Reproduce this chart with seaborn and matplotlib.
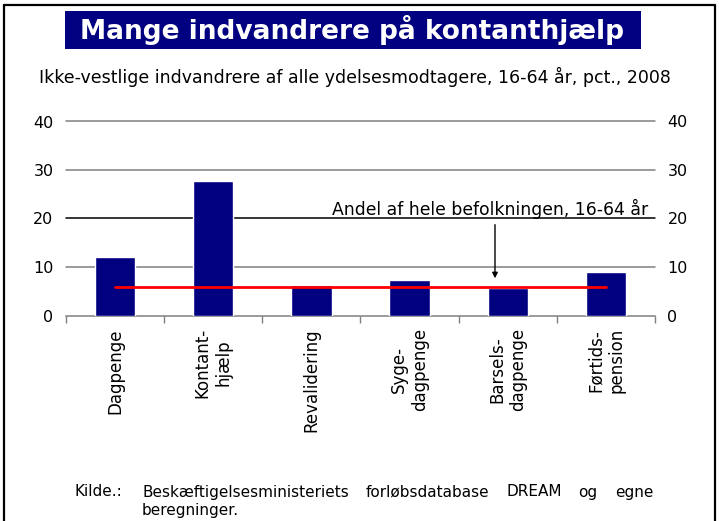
import matplotlib
matplotlib.use("Agg")
import matplotlib.pyplot as plt
from matplotlib.patches import Rectangle
from matplotlib.lines import Line2D
import seaborn as sns
import pandas as pd

# ---- data ----
categories = ["Dagpenge", "Kontant-\nhjælp", "Revalidering", "Syge-\ndagpenge",
              "Barsels-\ndagpenge", "Førtids-\npension"]
values = [12.0, 27.7, 6.2, 7.4, 5.6, 8.9]
befolkning_andel = [5.9, 5.9, 5.9, 5.9, 5.9, 5.9]
yticks = [0, 10, 20, 30, 40]

title = "Mange indvandrere på kontanthjælp"
subtitle = "Ikke-vestlige indvandrere af alle ydelsesmodtagere, 16-64 år, pct., 2008"
annot = "Andel af hele befolkningen, 16-64 år"
source_label = "Kilde.:"
source_line1 = "Beskæftigelsesministeriets forløbsdatabase DREAM og egne"
source_line2 = "beregninger."

sns.set_theme(style="white")
plt.rcParams["font.family"] = ["DejaVu Sans"]
plt.rcParams["text.color"] = "black"
plt.rcParams["xtick.color"] = "black"
plt.rcParams["ytick.color"] = "black"
plt.rcParams["axes.labelcolor"] = "black"

W, H = 719, 521
fig = plt.figure(figsize=(W / 100, H / 100), dpi=100)

def fx(px):
    return px / W

def fy(py):
    return 1 - py / H

ax = fig.add_axes([fx(66), fy(315.5), fx(655) - fx(66), fy(121.5) - fy(315.5)])

df = pd.DataFrame({"cat": categories, "val": values})
sns.barplot(data=df, x="cat", y="val", color="#000080", width=0.41,
            saturation=1, ax=ax, zorder=3)
pos = list(range(len(categories)))
sns.lineplot(x=pos, y=befolkning_andel, color="#ff0000", linewidth=2,
             ax=ax, zorder=4)

ax.set_xlim(-0.5, len(categories) - 0.5)
ax.set_ylim(0, 40)
ax.set_xlabel("")
ax.set_ylabel("")

# gridlines
for t in yticks[1:]:
    ax.axhline(t, color="black" if t == 20 else "#808080", linewidth=1.1,
               zorder=1, clip_on=False)

for s in ["left", "right", "top"]:
    ax.spines[s].set_visible(False)
ax.spines["bottom"].set_color("#808080")
ax.spines["bottom"].set_linewidth(1.1)

ax.set_yticks(yticks)
ax.tick_params(axis="y", length=0, pad=9, labelsize=11.5, colors="black")
ax.set_xticks(pos)
ax.set_xticklabels(categories, rotation=90, ha="center", va="top",
                   multialignment="center", fontsize=12)
ax.tick_params(axis="x", which="major", length=0, pad=9, colors="black")
ax.set_xticks([p - 0.5 for p in pos] + [len(pos) - 0.5], minor=True)
ax.tick_params(axis="x", which="minor", length=5, width=1, color="#808080",
               direction="out", bottom=True)

ax2 = ax.twinx()
ax2.set_ylim(0, 40)
ax2.set_yticks(yticks)
ax2.tick_params(axis="y", length=0, pad=9, labelsize=11.5, colors="black")
for s in ax2.spines.values():
    s.set_visible(False)
ax2.grid(False)

# annotation
ax.annotate("", xy=(3.87, 7.1), xytext=(3.87, 19.3),
            arrowprops=dict(arrowstyle="-|>", color="black", lw=1,
                            mutation_scale=8), zorder=5)
ax.text(5.43, 20.7, annot, ha="right", va="baseline", fontsize=12.4,
        color="black", zorder=5)

# title box
fig.patches.append(Rectangle((fx(65), fy(49)), fx(641) - fx(65),
                             fy(11) - fy(49), transform=fig.transFigure,
                             facecolor="#000080", edgecolor="none"))
fig.text(fx(352), fy(30), title, color="white", fontsize=19,
         fontweight="bold", ha="center", va="center")
fig.text(fx(39), fy(77), subtitle, fontsize=12.5, ha="left", va="center")

# frame
for (x0, y0, x1, y1) in [(4, 5, 715, 5), (4, 5, 4, 521), (715, 5, 715, 521)]:
    fig.lines.append(Line2D([fx(x0), fx(x1)], [fy(y0), fy(y1)],
                            transform=fig.transFigure, color="black",
                            linewidth=1.6))

# source (justified first line)
fig.text(fx(75), fy(492), source_label, fontsize=11, ha="left", va="center")
fig.canvas.draw()
renderer = fig.canvas.get_renderer()
words = source_line1.split()
x_start, x_end = 142, 653
texts = []
widths = []
for w in words:
    t = fig.text(0, fy(492), w, fontsize=11, ha="left", va="center")
    widths.append(t.get_window_extent(renderer).width)
    texts.append(t)
gap = (x_end - x_start - sum(widths)) / (len(words) - 1)
x = x_start
for t, w in zip(texts, widths):
    t.set_x(fx(x))
    x += w + gap
fig.text(fx(142), fy(511), source_line2, fontsize=11, ha="left", va="center")

fig.savefig("out.png", dpi=100)
